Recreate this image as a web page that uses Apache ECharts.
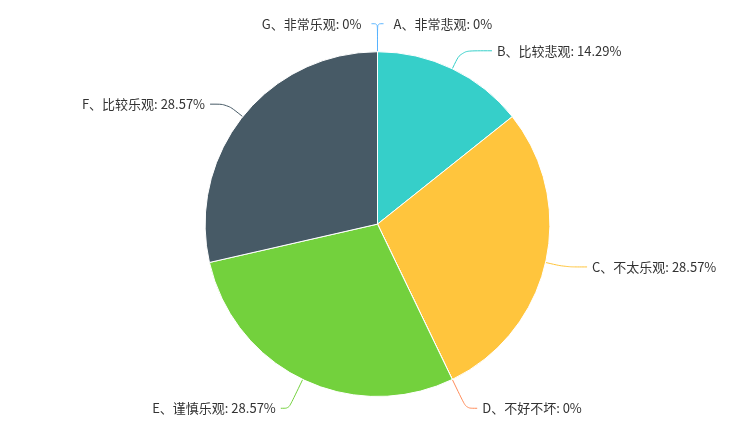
<!DOCTYPE html>
<html>
<head>
<meta charset="utf-8">
<script src="https://cdn.jsdelivr.net/npm/echarts@6/dist/echarts.min.js"></script>
<style>
  html, body { margin: 0; padding: 0; background: #fff; }
  #container { width: 755px; height: 431px; }
</style>
</head>
<body>
<div id="container"></div>
<script>
var categories = ['A、非常悲观', 'B、比较悲观', 'C、不太乐观', 'D、不好不坏', 'E、谨慎乐观', 'F、比较乐观', 'G、非常乐观'];
var counts = [0, 1, 2, 0, 2, 2, 0];
var colors = ['#58b3ff', '#36cfc9', '#ffc53d', '#ff8c5a', '#73d13d', '#475a66', '#58b3ff'];

var dom = document.getElementById('container');
var myChart = echarts.init(dom, null, { renderer: 'canvas' });

// label line tweaks per slice, to sit like the original
var lineTweaks = {
    0: { length: 28, length2: 6 },
    1: { length: 20, length2: 31 },
    3: { length: 32, length2: 11 },
    4: { length: 32, length2: 8 },
    5: { length: 20, length2: 17 },
    6: { length: 28, length2: 6 }
};

var data = categories.map(function (name, i) {
    var item = { value: counts[i], name: name, itemStyle: { color: colors[i] } };
    if (lineTweaks[i]) {
        item.labelLine = lineTweaks[i];
    }
    return item;
});

var option = {
    animation: false,
    series: [
        {
            type: 'pie',
            radius: '80%',
            center: ['50%', '52%'],
            avoidLabelOverlap: false,
            itemStyle: {
                borderColor: '#fff',
                borderWidth: 1
            },
            label: {
                formatter: '{b}: {d}%',
                color: '#333',
                fontSize: 13,
                fontFamily: 'Noto Sans CJK SC'
            },
            labelLine: {
                smooth: true,
                length: 20,
                length2: 22
            },
            labelLayout: function (params) {
                // first slice goes to the right of the top, last one to the left
                var pts = params.labelLinePoints;
                if (!pts || (params.dataIndex !== 0 && params.dataIndex !== categories.length - 1)) {
                    return {};
                }
                var p1 = pts[1], p2 = pts[2];
                var wantRight = params.dataIndex === 0;
                var goesRight = p2[0] > p1[0];
                var ex = wantRight === goesRight ? p2[0] : 2 * p1[0] - p2[0];
                var cy = params.labelRect.y + params.labelRect.height / 2;
                return {
                    x: wantRight ? ex + 10 : ex - 10,
                    y: cy,
                    align: wantRight ? 'left' : 'right',
                    verticalAlign: 'middle',
                    labelLinePoints: [pts[0], p1, [ex, p2[1]]]
                };
            },
            data: data
        }
    ]
};

myChart.setOption(option);
window.addEventListener('resize', myChart.resize);
</script>
</body>
</html>
